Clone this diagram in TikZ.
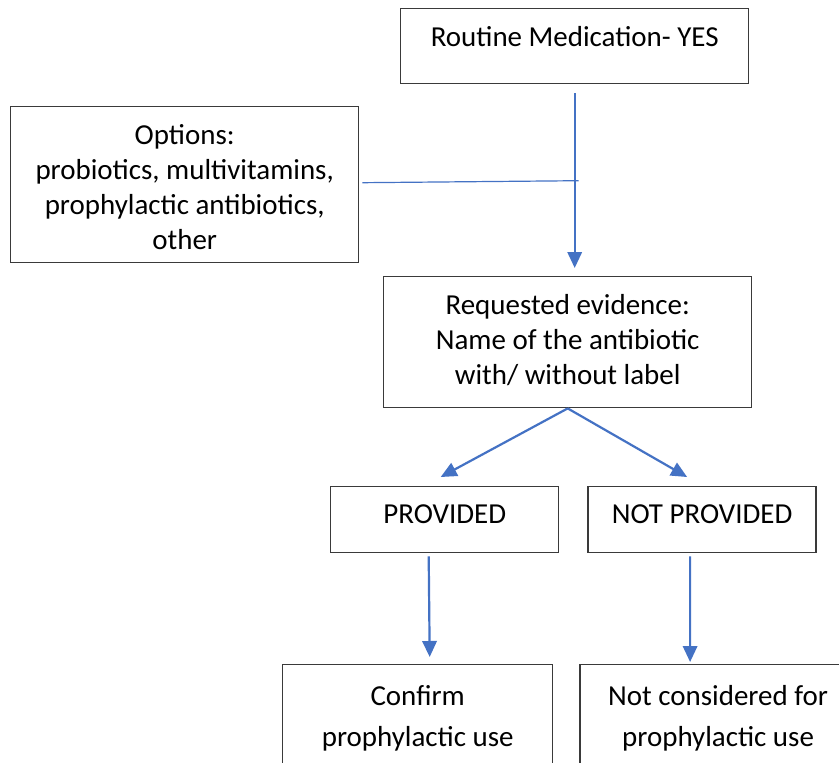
\documentclass[tikz,border=0pt]{standalone}
\usepackage{fontspec}
\setmainfont{Carlito}
\usepackage{tikz}
\usepackage{xcolor}
\usetikzlibrary{arrows.meta,positioning,calc}
\definecolor{flowblue}{HTML}{4472C4}
\definecolor{flowink}{HTML}{3A3A3A}
\tikzset{
  flowBox/.style={draw=flowink, line width=0.035cm, align=center, inner xsep=0pt, inner ysep=0pt, font=\fontsize{20.6}{24.9}\selectfont},
  endBox/.style={flowBox, font=\fontsize{20.6}{29.2}\selectfont},
  flowArrow/.style={-{Triangle[length=0.4cm,width=0.36cm]}, line width=0.055cm, draw=flowblue},
  thinLine/.style={line width=0.03cm, draw=flowblue}
}
\begin{document}
\begin{tikzpicture}
  \useasboundingbox (0,0) rectangle (20.975,-19.075);
  \clip (0,0) rectangle (20.975,-19.075);

  \node[flowBox, anchor=north west, minimum width=8.7cm, text height=0.95cm, text depth=0.925cm] (routine) at (10,-0.2) {Routine Medication- YES};
  \node[flowBox, anchor=north west, minimum width=8.7cm, text height=3.575cm, text depth=0.325cm] (options) at (0.25,-2.65) {Options:\\ probiotics, multivitamins,\\ prophylactic antibiotics,\\ other};
  \node[flowBox, anchor=north west, minimum width=9.2cm, text height=2.7cm, text depth=0.575cm] (evidence) at (9.575,-6.9) {Requested evidence:\\ Name of the antibiotic\\ with/ without label};
  \node[flowBox, anchor=north west, minimum width=5.7cm, text height=0.925cm, text depth=0.725cm] (provided) at (8.25,-12.15) {PROVIDED};
  \node[flowBox, minimum width=5.7cm, text height=0.925cm, text depth=0.725cm, right=0.7cm of provided] (notprovided) {NOT PROVIDED};
  \node[endBox, anchor=north west, minimum width=6.75cm, text height=2.05cm, text depth=1.35cm] (confirm) at (7.05,-16.6) {Confirm\\ prophylactic use};
  \node[endBox, minimum width=6.9cm, text height=2.05cm, text depth=1.35cm, right=0.65cm of confirm] (notconsidered) {Not considered for\\ prophylactic use};

  \draw[flowArrow, shorten <=0.225cm, shorten >=0.2cm] (routine.south) -- (routine.south |- evidence.north);
  \draw[thinLine] ([xshift=0.075cm,yshift=0.05cm]options.east) -- ($(options.east -| routine.south)+(0.1,0.1)$);
  \draw[flowArrow] (evidence.south) -- ([xshift=-0.1cm,yshift=0.225cm]provided.north);
  \draw[flowArrow] (evidence.south) -- ([xshift=-0.375cm,yshift=0.225cm]notprovided.north);
  \draw[flowArrow] ([xshift=-0.4cm,yshift=-0.075cm]provided.south) -- ([xshift=0.3cm,yshift=0.175cm]confirm.north);
  \draw[flowArrow] ([xshift=-0.3cm,yshift=-0.075cm]notprovided.south) -- ([xshift=-0.7cm,yshift=0.05cm]notconsidered.north);
\end{tikzpicture}
\end{document}
